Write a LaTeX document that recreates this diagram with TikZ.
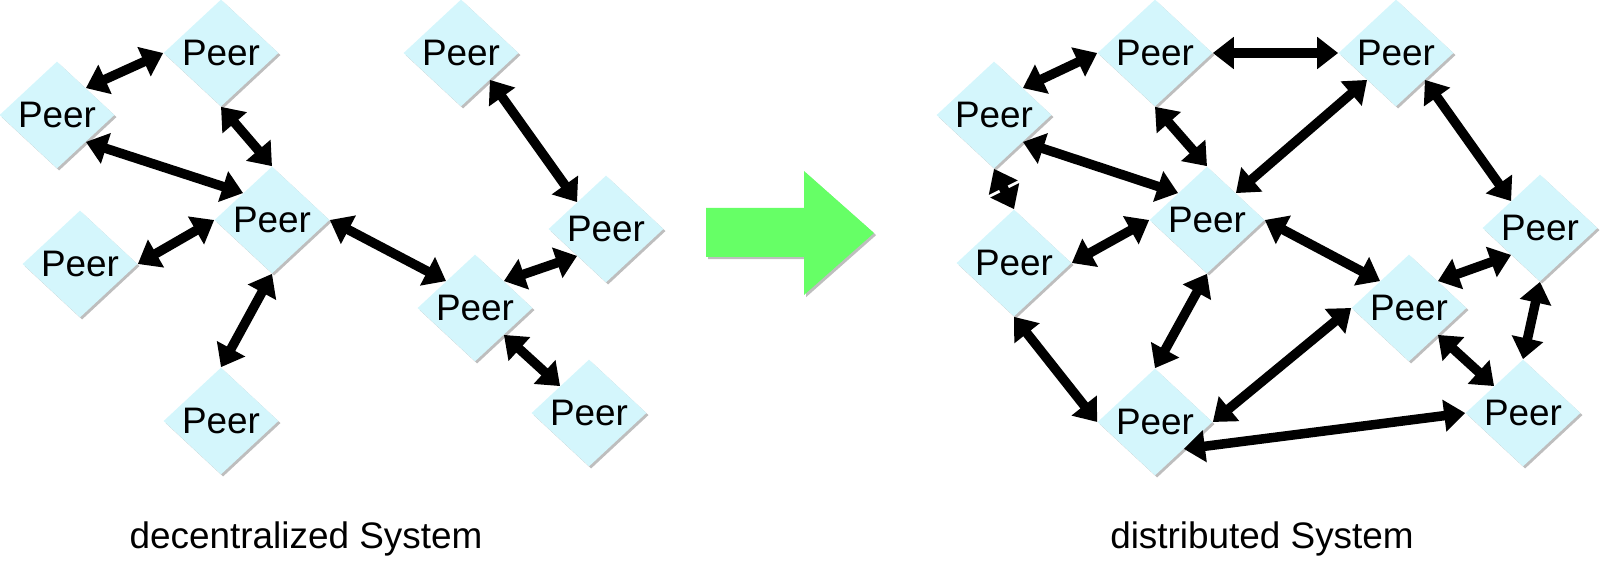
\documentclass[tikz,border=0pt]{standalone}
\usepackage{fontspec}
\setmainfont{Liberation Sans}
\usetikzlibrary{shapes.geometric,arrows.meta,shadows}

\definecolor{peercyan}{RGB}{212,246,252}
\definecolor{shiftgreen}{RGB}{102,255,102}
\definecolor{shadegray}{RGB}{190,190,190}

\tikzset{
  peer/.style={diamond, fill=peercyan, minimum width=2.3cm, minimum height=2.14cm,
    inner sep=0pt, font=\fontsize{21}{25}\selectfont,
    drop shadow={shadow xshift=1.2pt, shadow yshift=-1.2pt, fill=shadegray, opacity=1}},
  peerlink/.style={{Triangle[length=0.42cm,width=0.62cm]}-{Triangle[length=0.42cm,width=0.62cm]},
    line width=0.19cm},
  caption/.style={font=\fontsize{21}{25}\selectfont}
}

\begin{document}
\begin{tikzpicture}[x=0.02cm,y=-0.02cm]
        \useasboundingbox (0,0) rectangle (1600,584);

        % decentralized
        \node[peer] (dec1) at (57,115) {Peer};
        \node[peer] (dec2) at (221,53) {Peer};
        \node[peer] (dec3) at (272,220) {Peer};
        \node[peer] (dec4) at (80,264) {Peer};
        \node[peer] (dec5) at (221,421) {Peer};
        \node[peer] (dec6) at (461,53) {Peer};
        \node[peer] (dec7) at (606,229) {Peer};
        \node[peer] (dec8) at (475,308) {Peer};
        \node[peer] (dec9) at (589,413) {Peer};
        \foreach \a/\b in {dec1.north east/dec2.west, dec1.south east/dec3.north west,
                           dec2.south/dec3.north, dec4.east/dec3.west,
                           dec3.east/dec8.north west, dec3.south/dec5.north,
                           dec6.south east/dec7.north west, dec8.north east/dec7.south west,
                           dec8.south east/dec9.north west}
          \draw[peerlink] (\a) -- (\b);
        \node[caption] (declabel) at (306,539) {decentralized System};

        % big arrow
        \fill[shiftgreen, drop shadow={shadow xshift=1.2pt, shadow yshift=-1.2pt, fill=shadegray, opacity=1}]
          (706,208) -- (804,208) -- (804,171) -- (874,233) -- (804,295) -- (804,257) -- (706,257) -- cycle;

        % distributed
        \node[peer] (dis1) at (994,115) {Peer};
        \node[peer] (dis2) at (1155,53) {Peer};
        \node[peer] (dis3) at (1396,53) {Peer};
        \node[peer] (dis4) at (1207,220) {Peer};
        \node[peer] (dis5) at (1014,263) {Peer};
        \node[peer] (dis6) at (1540,228) {Peer};
        \node[peer] (dis7) at (1409,308) {Peer};
        \node[peer] (dis8) at (1155,422) {Peer};
        \node[peer] (dis9) at (1523,413) {Peer};
        \foreach \a/\b in {dis1.north east/dis2.west, dis2.east/dis3.west,
                           dis1.south east/dis4.north west, dis1.south/dis5.north,
                           dis2.south/dis4.north, dis3.south west/dis4.north east,
                           dis3.south east/dis6.north west, dis5.east/dis4.west,
                           dis4.east/dis7.north west, dis4.south/dis8.north,
                           dis5.south/dis8.west, dis6.south west/dis7.north east,
                           dis6.south/dis9.north, dis7.south east/dis9.north west,
                           dis7.west/dis8.east, dis8.south east/dis9.west}
          \draw[peerlink] (\a) -- (\b);
        \node[caption] (dislabel) at (1262,539) {distributed System};
    \end{tikzpicture}
\end{document}
